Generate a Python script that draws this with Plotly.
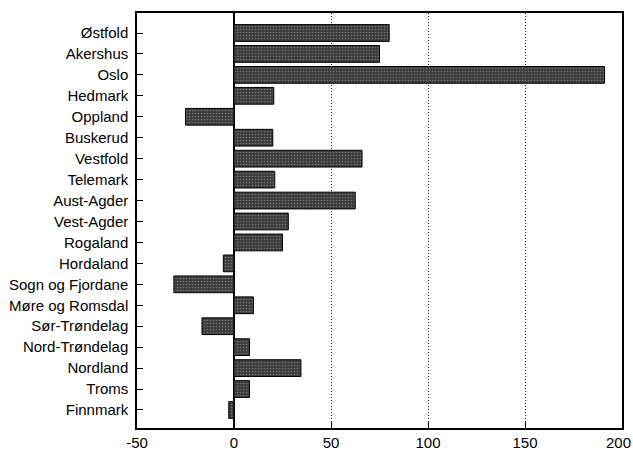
import plotly.graph_objects as go

counties = ["Østfold", "Akershus", "Oslo", "Hedmark", "Oppland", "Buskerud", "Vestfold",
            "Telemark", "Aust-Agder", "Vest-Agder", "Rogaland", "Hordaland",
            "Sogn og Fjordane", "Møre og Romsdal", "Sør-Trøndelag", "Nord-Trøndelag",
            "Nordland", "Troms", "Finnmark"]
values = [80, 75, 191, 20.5, -25, 20, 66, 21, 62.5, 28, 25, -5.5, -31, 10, -16.5, 8, 34.5, 8, -2.7]
x_ticks = [-50, 0, 50, 100, 150, 200]

pos = list(range(len(counties)))
FONT = "Liberation Sans, Arial, Helvetica, sans-serif"

fig = go.Figure(go.Bar(
    x=values, y=pos, orientation="h", width=0.8,
    marker=dict(color="#3a3a3a", line=dict(color="black", width=1),
                pattern=dict(shape=".", fgcolor="#b0b0b0", size=3, solidity=0.25)),
))

# last tick label placed as annotation so it stays inside the page
fig.add_annotation(x=x_ticks[-1], y=0, xref="x", yref="paper", text=str(x_ticks[-1]),
                   showarrow=False, xanchor="right", yanchor="top", xshift=11, yshift=-4,
                   font=dict(family=FONT, size=15, color="black"))

fig.update_layout(
    width=633, height=452,
    margin=dict(l=137, r=11, t=13, b=24, autoexpand=False),
    plot_bgcolor="white", paper_bgcolor="white",
    showlegend=False,
    font=dict(family=FONT, size=15, color="black"),
)
fig.update_xaxes(
    range=[-50, 200], tickvals=x_ticks,
    ticktext=[str(v) for v in x_ticks[:-1]] + [""],
    ticks="inside", ticklen=6, tickcolor="black",
    showline=True, linecolor="black", linewidth=1.5, mirror=True,
    showgrid=True, gridcolor="#222222", griddash="1px,2px", gridwidth=1,
    zeroline=True, zerolinecolor="black", zerolinewidth=1.5,
    tickfont=dict(size=15), ticklabelstandoff=0, automargin=False,
)
fig.update_yaxes(
    range=[18.86, -0.955], tickvals=pos, ticktext=counties,
    ticks="inside", ticklen=6, tickcolor="black",
    showline=True, linecolor="black", linewidth=1.5, mirror=True,
    showgrid=False, zeroline=False,
    tickfont=dict(size=15), ticklabelstandoff=4, automargin=False,
)

fig.write_html("out.html", config={"displayModeBar": False},
               post_script="document.body.style.margin='0';")
